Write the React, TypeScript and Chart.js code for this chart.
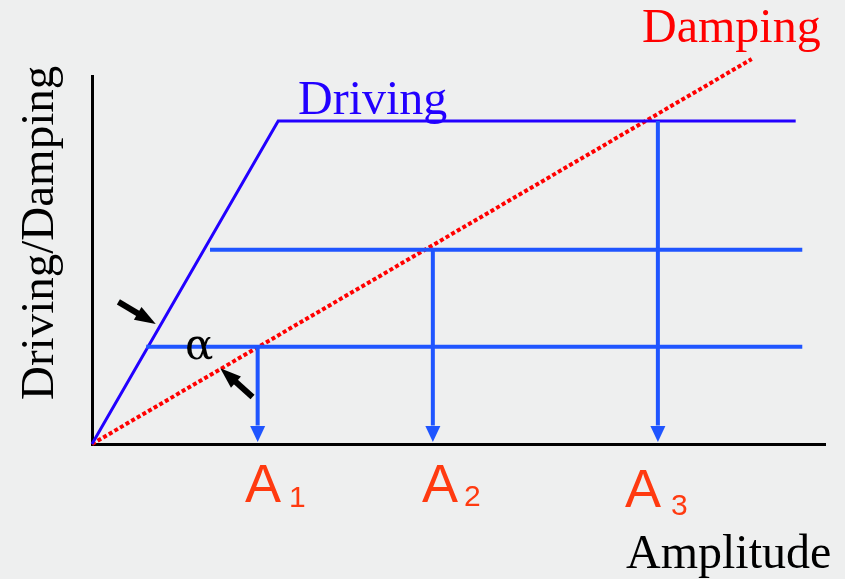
import React, { useEffect, useRef } from "react";
import { Chart, registerables } from "chart.js";

Chart.register(...registerables);

// ---- data (Amplitude 0–10, Driving/Damping 0–5) ----
const drivingX = [0, 2.54, 9.6];
const drivingY = [0, 4.39, 4.39];
const dampingX = [0, 9.0];
const dampingY = [0, 5.23];
const levelY = [1.32, 2.64];
const levelStartX = [0.74, 1.61];
const levelEndX = 9.69;
const amplitudeX = [2.26, 4.65, 7.72];
const amplitudeLevelY = [1.32, 2.64, 4.39];
const amplitudeLabels = ["1", "2", "3"];
// black pointer arrows: [tailX, tailY, tipX, tipY]
const pointerArrows = [
  [0.36, 1.93, 0.87, 1.63],
  [2.19, 0.64, 1.75, 1.03],
];

const BG = "#eeefef";
const DRIVE_BLUE = "#2200ff";
const LEVEL_BLUE = "#1f55ff";
const RED = "#ff0000";
const A_COLOR = "#ff3a10";
const SERIF = "'Liberation Serif', 'Times New Roman', serif";
const SANS = "'Liberation Sans', Arial, sans-serif";

const annotations = {
  id: "annotations",
  beforeDraw(chart: any) {
    const ctx = chart.ctx;
    ctx.save();
    ctx.fillStyle = BG;
    ctx.fillRect(0, 0, chart.width, chart.height);
    ctx.restore();
  },
  afterDatasetsDraw(chart: any) {
    const ctx = chart.ctx;
    const xs = chart.scales.x;
    const ys = chart.scales.y;
    ctx.save();
    // arrowheads on drops
    ctx.fillStyle = LEVEL_BLUE;
    amplitudeX.forEach((ax) => {
      const px = xs.getPixelForValue(ax);
      const tip = ys.getPixelForValue(0) - 2;
      ctx.beginPath();
      ctx.moveTo(px, tip);
      ctx.lineTo(px - 7.5, tip - 16);
      ctx.lineTo(px + 7.5, tip - 16);
      ctx.closePath();
      ctx.fill();
    });
    // black pointer arrows
    ctx.fillStyle = "#000";
    ctx.strokeStyle = "#000";
    pointerArrows.forEach(([tx, ty, hx, hy]) => {
      const x0 = xs.getPixelForValue(tx);
      const y0 = ys.getPixelForValue(ty);
      const x1 = xs.getPixelForValue(hx);
      const y1 = ys.getPixelForValue(hy);
      const ang = Math.atan2(y1 - y0, x1 - x0);
      const L = 21;
      const bx = x1 - L * Math.cos(ang);
      const by = y1 - L * Math.sin(ang);
      ctx.lineWidth = 6;
      ctx.beginPath();
      ctx.moveTo(x0, y0);
      ctx.lineTo(bx + 2 * Math.cos(ang), by + 2 * Math.sin(ang));
      ctx.stroke();
      const w = 7.5;
      ctx.beginPath();
      ctx.moveTo(x1, y1);
      ctx.lineTo(bx - w * Math.sin(ang), by + w * Math.cos(ang));
      ctx.lineTo(bx + w * Math.sin(ang), by - w * Math.cos(ang));
      ctx.closePath();
      ctx.fill();
    });
    // texts
    ctx.textBaseline = "alphabetic";
    ctx.textAlign = "left";
    ctx.font = `48px ${SERIF}`;
    ctx.fillStyle = DRIVE_BLUE;
    ctx.fillText("Driving", 298, 114);
    ctx.fillStyle = RED;
    ctx.fillText("Damping", 642, 42);
    ctx.fillStyle = "#000";
    ctx.fillText("Amplitude", 626, 568);
    ctx.font = `42px 'DejaVu Serif', serif`;
    ctx.fillText("\u03b1", 185, 359);
    // y title
    ctx.save();
    ctx.translate(53, 400);
    ctx.rotate(-Math.PI / 2);
    ctx.font = `47px ${SERIF}`;
    ctx.fillText("Driving/Damping", 0, 0);
    ctx.restore();
    // A labels
    const aPos = [
      [245, 502, 289, 507],
      [422, 502, 464, 506],
      [625, 507, 671, 515],
    ];
    ctx.fillStyle = A_COLOR;
    aPos.forEach(([ax, ay, sx, sy], i) => {
      ctx.font = `54px ${SANS}`;
      ctx.fillText("A", ax, ay);
      ctx.font = `30px ${SANS}`;
      ctx.fillText(amplitudeLabels[i], sx, sy);
    });
    ctx.restore();
  },
};

function line(xsArr: number[], ysArr: number[], color: string, width: number, extra: any = {}) {
  return {
    data: xsArr.map((x, i) => ({ x, y: ysArr[i] })),
    borderColor: color,
    backgroundColor: color,
    borderWidth: width,
    pointRadius: 0,
    showLine: true,
    fill: false,
    tension: 0,
    clip: false,
    ...extra,
  };
}

export default function App() {
  const ref = useRef<HTMLCanvasElement>(null);
  useEffect(() => {
    document.body.style.margin = "0";
    document.body.style.background = BG;
    const datasets: any[] = [];
    levelY.forEach((ly, i) => {
      datasets.push(line([levelStartX[i], levelEndX], [ly, ly], LEVEL_BLUE, 4));
    });
    amplitudeX.forEach((ax, i) => {
      datasets.push(line([ax, ax], [amplitudeLevelY[i], 0.25], LEVEL_BLUE, 4));
    });
    datasets.push(line(drivingX, drivingY, DRIVE_BLUE, 3));
    datasets.push(
      line(dampingX, dampingY, RED, 4, { borderDash: [4, 2.5], borderCapStyle: "butt" })
    );
    const chart = new Chart(ref.current!, {
      type: "scatter",
      data: { datasets },
      options: {
        animation: false,
        responsive: false,
        maintainAspectRatio: false,
        layout: { padding: { left: 92, right: 20, top: 76, bottom: 135 } },
        plugins: { legend: { display: false }, tooltip: { enabled: false } },
        scales: {
          x: {
            type: "linear",
            min: 0,
            max: 10,
            ticks: { display: false },
            grid: { display: false, drawTicks: false },
            border: { display: true, color: "#000", width: 3 },
          },
          y: {
            type: "linear",
            min: 0,
            max: 5,
            ticks: { display: false },
            grid: { display: false, drawTicks: false },
            border: { display: true, color: "#000", width: 3 },
          },
        },
      },
      plugins: [annotations],
    });
    return () => chart.destroy();
  }, []);
  return <canvas ref={ref} width={845} height={579} style={{ display: "block" }} />;
}
